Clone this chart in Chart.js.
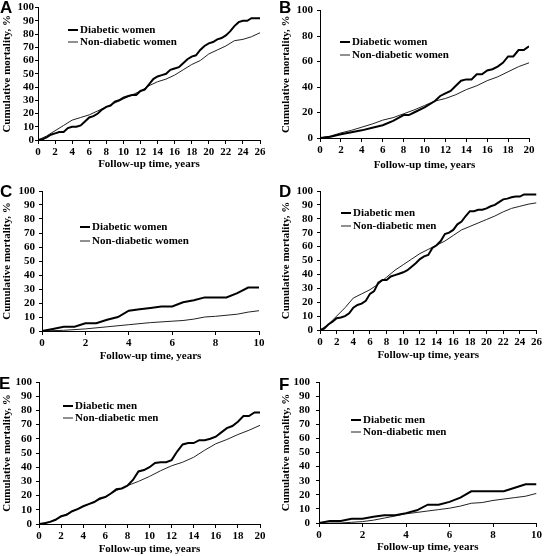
<!DOCTYPE html>
<html>
<head>
<meta charset="utf-8">
<script src="https://cdn.jsdelivr.net/npm/chart.js@4.4.1/dist/chart.umd.min.js"></script>
<style>
  html, body { margin: 0; padding: 0; background: #fff; }
  #figure { position: relative; width: 544px; height: 556px; overflow: hidden; }
  #figure canvas { position: absolute; }
</style>
</head>
<body>
<div id="figure">
  <canvas id="panelA" width="272" height="180" style="left:0;top:0"></canvas>
  <canvas id="panelB" width="272" height="180" style="left:272px;top:0"></canvas>
  <canvas id="panelC" width="272" height="185" style="left:0;top:180px"></canvas>
  <canvas id="panelD" width="272" height="185" style="left:272px;top:180px"></canvas>
  <canvas id="panelE" width="272" height="191" style="left:0;top:365px"></canvas>
  <canvas id="panelF" width="272" height="191" style="left:272px;top:365px"></canvas>
</div>
<script>
// 数据：随访年数与累计死亡率（%）
const A_DIAB_X = [0,0.5,1,1.5,2,2.5,3,3.5,4,4.5,5,5.5,6,6.5,7,7.5,8,8.5,9,9.5,10,10.5,11,11.5,12,12.5,13,13.5,14,14.5,15,15.5,16,16.5,17,17.5,18,18.5,19,19.5,20,20.5,21,21.5,22,22.5,23,23.5,24,24.5,25,25.5,26];
const A_DIAB = [0,0.5,2,4,5,6,6,9,10,10,11,14,17,18,20,23,25,26,29,30,32,33,34,34,37,38,42,46,48,49,50,53,54,55,58,61,63,64,68,71,73,74,76,77,79,82,86,89,90,90,92,92,92];
const A_NON_X = [0,1,2,3,4,5,6,7,8,9,10,11,12,13,14,15,16,17,18,19,20,21,22,23,24,25,26];
const A_NON = [0,3,7,11,15,17,19,22,25,28,31,34,37,41,44,46,49,53,57,60,65,68,71,75,76,78,81];

const B_DIAB_X = [0,1,2,3,4,5,6,7,8,8.5,9,10,11,11.5,12,12.5,13,13.5,14,14.5,15,15.5,16,16.5,17,17.5,18,18.5,19,19.5,20];
const B_DIAB = [0,1,3,4.5,6,8,10,13.5,18,18,20,24,29,33,35,37,41,45,46,46,50,50,53,54,56,59,64,64,69,69,72];
const B_NON_X = [0,1,2,3,4,5,6,7,8,9,10,11,12,13,14,15,16,17,18,19,20];
const B_NON = [0,1.5,4,6,8.5,11,14,16,19,22,25.5,29,31,34,38,41,45,48,52,56,59];

const C_DIAB_X = [0,0.5,1,1.5,2,2.5,3,3.5,4,4.5,5,5.5,6,6.5,7,7.5,8,8.5,9,9.5,10];
const C_DIAB = [0,1.5,3,3,5.5,5.5,8,10,14.5,15.5,16.5,17.5,17.5,20.5,22,24,24,24,27,31,31];
const C_NON_X = [0,1,2,3,4,5,6,6.5,7,7.5,8,9,9.5,10];
const C_NON = [0,0.5,1.5,3,4.5,6,7,7.5,8.5,10,10.5,12,13.5,14.5];

const D_DIAB_X = [0,0.5,1,1.5,2,2.5,3,3.5,4,4.5,5,5.5,6,6.5,7,7.5,8,8.5,9,9.5,10,10.5,11,11.5,12,12.5,13,13.5,14,14.5,15,15.5,16,16.5,17,17.5,18,18.5,19,19.5,20,20.5,21,21.5,22,22.5,23,23.5,24,24.5,25,25.5,26];
const D_DIAB = [0,1,4,6,8.5,9,10,12,16,18,19,21,26,28,34,36,36,38.5,39.5,40.5,41.5,43,45.5,48,51,53,54,59,61,64,69,70,72,76,78,82,85.5,85.5,86.5,86.5,87.5,89,90,92,94,94.5,95.5,96,96,97.5,97.5,97.5,97.5];
const D_NON_X = [0,1,2,3,4,5,6,7,8,9,10,11,12,13,14,15,16,17,18,19,20,21,22,23,24,25,26];
const D_NON = [0,4,10,16,23,26,29,33,38,43,47,51,55,58,61,64,68,72,74.5,77,79.5,82,85,87.5,89,90.5,91.5];

const E_DIAB_X = [0,0.5,1,1.5,2,2.5,3,3.5,4,4.5,5,5.5,6,6.5,7,7.5,8,8.5,9,9.5,10,10.5,11,11.5,12,12.5,13,13.5,14,14.5,15,15.5,16,16.5,17,17.5,18,18.5,19,19.5,20];
const E_DIAB = [0,0.5,1.5,3,5.5,6.5,9,10.5,12.5,14,15.5,18,19,21.5,24.5,25,27,31,37,38,40,43,43.5,43.5,45,51,56,57,57,59,59,60,61.5,64.5,67.5,69,72,76,76,78.5,78.5];
const E_NON_X = [0,1,2,3,4,5,6,7,8,9,10,11,12,13,14,15,16,17,18,19,20];
const E_NON = [0,1.5,5,9,12.5,15.5,19,23.5,27,30,33.5,37.5,41,43.5,47,52,56.5,59.5,63,66,69.5];

const F_DIAB_X = [0,0.5,1,1.5,2,2.5,3,3.5,4,4.5,5,5.5,6,6.5,7,7.5,8,8.5,9,9.5,10];
const F_DIAB = [0,1.5,1.5,3,3,4.5,5.5,5.5,7,9,13,13,15,18,22.5,22.5,22.5,22.5,25,27.5,27.5];
const F_NON_X = [0,0.5,1,1.5,2,2.5,3,3.5,4,4.5,5,5.5,6,6.5,7,7.5,8,8.5,9,9.5,10];
const F_NON = [0,0,0,0.5,1,2,3.5,5,6.5,7.5,8.5,9.5,10.5,12,14,14.5,16,17,18,19,21];

const WOMEN_LABELS = ["Diabetic women", "Non-diabetic women"];
const MEN_LABELS = ["Diabetic men", "Non-diabetic men"];
const X_TITLE = "Follow-up time, years";
const Y_TITLE = "Cumulative mortality, %";

var MortalityPanels = (function() {
    const SERIF = '"Liberation Serif", "Times New Roman", serif';

    // 面板字母与图例
    const decorPlugin = {
        id: "panelDecor",
        afterDraw(chart, args, opts) {
            const ctx = chart.ctx;
            ctx.save();
            ctx.fillStyle = "#000";
            ctx.font = 'bold 17px "Liberation Sans", Arial, sans-serif';
            ctx.textBaseline = "alphabetic";
            ctx.fillText(opts.letter, opts.letterX, opts.letterY);

            ctx.font = "bold 11px " + SERIF;
            ctx.textBaseline = "middle";
            chart.data.datasets.forEach((ds, i) => {
                const y = opts.legendY + i * opts.legendGap;
                ctx.lineWidth = ds.borderWidth;
                ctx.strokeStyle = ds.borderColor;
                ctx.beginPath();
                ctx.moveTo(opts.legendX, y);
                ctx.lineTo(opts.legendX + 10, y);
                ctx.stroke();
                ctx.fillText(ds.label, opts.legendX + 12, y);
            });
            ctx.restore();
        },
    };

    function toPoints(xs, ys) {
        return xs.map((x, i) => ({ x: x, y: ys[i] }));
    }

    /**
     * 绘制单个面板
     */
    function drawPanel(id, cfg) {
        const canvas = document.getElementById(id);
        const w = canvas.width, h = canvas.height;
        const area = cfg.area;

        new Chart(canvas.getContext("2d"), {
            type: "line",
            data: {
                datasets: [
                    {
                        label: cfg.labels[0],
                        data: toPoints(cfg.diabX, cfg.diab),
                        borderColor: "#000",
                        borderWidth: 2,
                        pointRadius: 0,
                        tension: 0,
                    },
                    {
                        label: cfg.labels[1],
                        data: toPoints(cfg.nonX, cfg.non),
                        borderColor: "#222",
                        borderWidth: 1,
                        pointRadius: 0,
                        tension: 0,
                    },
                ],
            },
            options: {
                responsive: false,
                animation: false,
                devicePixelRatio: 1,
                layout: {
                    padding: { left: 0, top: area.top, right: w - area.right, bottom: 0 },
                },
                scales: {
                    x: {
                        type: "linear",
                        min: 0,
                        max: cfg.xMax,
                        afterFit: (scale) => { scale.height = h - area.bottom; },
                        grid: { drawOnChartArea: false, drawTicks: true, tickLength: 4, color: "#000" },
                        border: { color: "#000", width: 1 },
                        ticks: {
                            stepSize: 2,
                            padding: 2,
                            autoSkip: false,
                            maxRotation: 0,
                            color: "#000",
                            font: { family: SERIF, size: 11, weight: "bold" },
                        },
                        title: {
                            display: true,
                            text: X_TITLE,
                            color: "#000",
                            padding: { top: 0, bottom: cfg.xTitlePad },
                            font: { family: SERIF, size: 11, weight: "bold" },
                        },
                    },
                    y: {
                        min: 0,
                        max: 100,
                        afterFit: (scale) => { scale.width = area.left; },
                        grid: { drawOnChartArea: false, drawTicks: true, tickLength: 3, color: "#000" },
                        border: { color: "#000", width: 1 },
                        ticks: {
                            stepSize: cfg.yStep,
                            padding: cfg.yTickPad,
                            autoSkip: false,
                            color: "#000",
                            font: { family: SERIF, size: 11, weight: "bold" },
                        },
                        title: {
                            display: true,
                            text: Y_TITLE,
                            color: "#000",
                            padding: { top: cfg.yTitlePad, bottom: 0 },
                            font: { family: SERIF, size: 11, weight: "bold" },
                        },
                    },
                },
                plugins: {
                    legend: { display: false },
                    tooltip: { enabled: false },
                    panelDecor: cfg.decor,
                },
            },
            plugins: [decorPlugin],
        });
    }

    function drawAll() {
        drawPanel("panelA", {
            diabX: A_DIAB_X, diab: A_DIAB, nonX: A_NON_X, non: A_NON, labels: WOMEN_LABELS,
            xMax: 26, yStep: 10,
            area: { left: 38, right: 260, top: 7, bottom: 140 },
            xTitlePad: 9, yTitlePad: 1, yTickPad: 1,
            decor: { letter: "A", letterX: 0, letterY: 13, legendX: 68, legendY: 30, legendGap: 12 },
        });
        drawPanel("panelB", {
            diabX: B_DIAB_X, diab: B_DIAB, nonX: B_NON_X, non: B_NON, labels: WOMEN_LABELS,
            xMax: 20, yStep: 20,
            area: { left: 48, right: 257, top: 7, bottom: 138 },
            xTitlePad: 8, yTitlePad: 8, yTickPad: 4,
            decor: { letter: "B", letterX: 7, letterY: 13, legendX: 68, legendY: 42, legendGap: 13 },
        });
        drawPanel("panelC", {
            diabX: C_DIAB_X, diab: C_DIAB, nonX: C_NON_X, non: C_NON, labels: WOMEN_LABELS,
            xMax: 10, yStep: 10,
            area: { left: 42, right: 259, top: 11, bottom: 151 },
            xTitlePad: 2, yTitlePad: 1, yTickPad: 4,
            decor: { letter: "C", letterX: 0, letterY: 17, legendX: 80, legendY: 47, legendGap: 14 },
        });
        drawPanel("panelD", {
            diabX: D_DIAB_X, diab: D_DIAB, nonX: D_NON_X, non: D_NON, labels: MEN_LABELS,
            xMax: 26, yStep: 10,
            area: { left: 48, right: 265, top: 11, bottom: 150 },
            xTitlePad: 3, yTitlePad: 8, yTickPad: 4,
            decor: { letter: "D", letterX: 7, letterY: 17, legendX: 69, legendY: 33, legendGap: 13 },
        });
        drawPanel("panelE", {
            diabX: E_DIAB_X, diab: E_DIAB, nonX: E_NON_X, non: E_NON, labels: MEN_LABELS,
            xMax: 20, yStep: 10,
            area: { left: 39, right: 260, top: 17, bottom: 159 },
            xTitlePad: 0, yTitlePad: 1, yTickPad: 4,
            decor: { letter: "E", letterX: -1, letterY: 24, legendX: 63, legendY: 41, legendGap: 12 },
        });
        drawPanel("panelF", {
            diabX: F_DIAB_X, diab: F_DIAB, nonX: F_NON_X, non: F_NON, labels: MEN_LABELS,
            xMax: 10, yStep: 10,
            area: { left: 47, right: 267, top: 17, bottom: 158 },
            xTitlePad: 2, yTitlePad: 8, yTickPad: 6,
            decor: { letter: "F", letterX: 7, letterY: 25, legendX: 79, legendY: 55, legendGap: 12 },
        });
    }

    return { drawAll: drawAll };
})();

MortalityPanels.drawAll();
</script>
</body>
</html>
